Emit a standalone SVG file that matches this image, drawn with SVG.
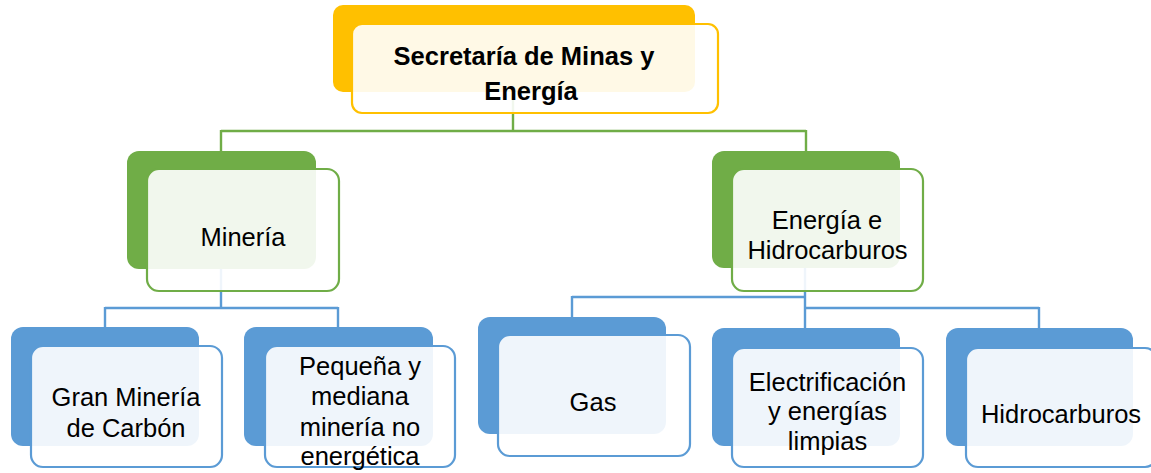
<svg xmlns="http://www.w3.org/2000/svg" width="1151" height="473" viewBox="0 0 1151 473">
<style>
.bg{fill:#ffffff}
.y-back{fill:#FFC000}
.g-back{fill:#70AD47}
.b-back{fill:#5B9BD5}
.front{fill:#ffffff;fill-opacity:0.9;stroke-width:2.2}
.y-front{stroke:#FFC000}
.g-front{stroke:#70AD47}
.b-front{stroke:#5B9BD5}
.conn-g{fill:none;stroke:#70AD47;stroke-width:2.4}
.conn-b{fill:none;stroke:#5B9BD5;stroke-width:2.4}
text{font-family:"Liberation Sans",Arial,sans-serif;font-size:25.5px;fill:#000000;text-anchor:middle}
.bold{font-weight:bold}
</style>
<rect class="bg" x="0" y="0" width="1151" height="473"/>
<g id="connectors">
  <path class="conn-g" d="M513 92 V131 M221 131 H806 M221 130 V151 M806 130 V151"/>
  <path class="conn-b" d="M221 269 V308 M105 308 H338 M105 307 V327 M338 307 V327"/>
  <path class="conn-b" d="M805 268 V328 M572 297 H805 M572 296 V317 M805 308 H1039 M1039 307 V328"/>
</g>
<g id="node-secretaria">
  <rect class="y-back" x="333" y="5" width="362" height="87" rx="10"/>
  <rect class="front y-front" x="352" y="24" width="366" height="89" rx="10"/>
  <text class="bold" x="524" y="65">Secretaría de Minas y</text>
  <text class="bold" x="531" y="100">Energía</text>
</g>
<g id="node-mineria">
  <rect class="g-back" x="127" y="151" width="189" height="118" rx="12"/>
  <rect class="front g-front" x="147" y="169" width="192" height="122" rx="12"/>
  <text x="243" y="246">Minería</text>
</g>
<g id="node-energia">
  <rect class="g-back" x="712" y="151" width="188" height="117" rx="12"/>
  <rect class="front g-front" x="732" y="169" width="191" height="122" rx="12"/>
  <text x="827" y="229">Energía e</text>
  <text x="827.5" y="259">Hidrocarburos</text>
</g>
<g id="node-gran-mineria">
  <rect class="b-back" x="11" y="327" width="188" height="119" rx="12"/>
  <rect class="front b-front" x="31" y="346" width="191" height="121" rx="12"/>
  <text x="126" y="406">Gran Minería</text>
  <text x="126" y="437">de Carbón</text>
</g>
<g id="node-pequena">
  <rect class="b-back" x="244" y="327" width="189" height="119" rx="12"/>
  <rect class="front b-front" x="265" y="346" width="190" height="121" rx="12"/>
  <text x="360" y="375">Pequeña y</text>
  <text x="360" y="405">mediana</text>
  <text x="360" y="436">minería no</text>
  <text x="360" y="465">energética</text>
</g>
<g id="node-gas">
  <rect class="b-back" x="478" y="317" width="188" height="117" rx="12"/>
  <rect class="front b-front" x="498" y="335" width="192" height="121" rx="12"/>
  <text x="593" y="411">Gas</text>
</g>
<g id="node-electrificacion">
  <rect class="b-back" x="712" y="328" width="188" height="118" rx="12"/>
  <rect class="front b-front" x="732" y="348" width="191" height="119" rx="12"/>
  <text x="827.5" y="391">Electrificación</text>
  <text x="827.5" y="420">y energías</text>
  <text x="827.5" y="450">limpias</text>
</g>
<g id="node-hidrocarburos">
  <rect class="b-back" x="946" y="328" width="187" height="118" rx="12"/>
  <rect class="front b-front" x="966" y="348" width="191" height="119" rx="12"/>
  <text x="1061" y="423">Hidrocarburos</text>
</g>
</svg>
